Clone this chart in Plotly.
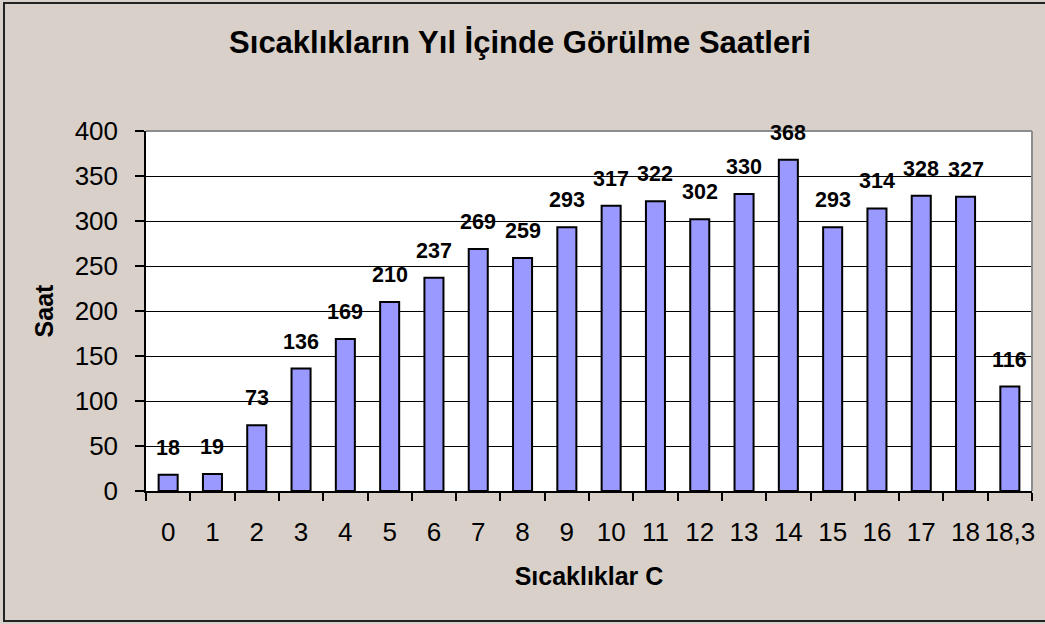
import plotly.graph_objects as go

categories = ["0", "1", "2", "3", "4", "5", "6", "7", "8", "9", "10", "11", "12",
              "13", "14", "15", "16", "17", "18", "18,3"]
hours = [18, 19, 73, 136, 169, 210, 237, 269, 259, 293, 317, 322, 302, 330, 368,
         293, 314, 328, 327, 116]
y_ticks = [0, 50, 100, 150, 200, 250, 300, 350, 400]

title_text = "Sıcaklıkların Yıl İçinde Görülme Saatleri"
x_title = "Sıcaklıklar C"
y_title = "Saat"

FONT = "Liberation Sans, Arial, sans-serif"
BG = "#D8D0C9"

W, H = 1045, 624
ML, MR, MT, MB = 146, 13, 131, 133
PW, PH = W - ML - MR, H - MT - MB

fig = go.Figure()
fig.add_trace(go.Bar(
    x=categories, y=hours,
    marker=dict(color="#9999FF", line=dict(color="#000000", width=2)),
    hoverinfo="x+y",
))

annotations = []
for c, v in zip(categories, hours):
    annotations.append(dict(
        x=c, y=v, xref="x", yref="y", text="<b>%d</b>" % v, showarrow=False,
        yanchor="bottom", xanchor="center", yshift=13,
        font=dict(family=FONT, size=21.5, color="#000000"),
    ))

def px_x(px):
    return (px - ML) / PW

def px_y(py):
    return (H - MB - py) / PH

shapes = [
    # outer chart frame
    dict(type="rect", xref="paper", yref="paper",
         x0=px_x(4), x1=px_x(1052), y0=px_y(621), y1=px_y(3),
         line=dict(color="#222222", width=2), fillcolor="rgba(0,0,0,0)", layer="below"),
    # plot area top and right borders (gray)
    dict(type="line", xref="paper", yref="paper", x0=0, x1=1, y0=1, y1=1,
         line=dict(color="#8C8C8C", width=2), layer="above"),
    dict(type="line", xref="paper", yref="paper", x0=1, x1=1, y0=0, y1=1,
         line=dict(color="#8C8C8C", width=2), layer="above"),
]

fig.update_layout(
    width=W, height=H,
    margin=dict(l=ML, r=MR, t=MT, b=MB, autoexpand=False),
    paper_bgcolor=BG, plot_bgcolor="#FFFFFF",
    showlegend=False,
    bargap=0.57,
    title=dict(text="<b>%s</b>" % title_text, x=(232 + 808) / 2 / W, xanchor="center",
               y=1 - 42 / H, yanchor="middle", yref="container",
               font=dict(family=FONT, size=31, color="#000000")),
    font=dict(family=FONT, color="#000000"),
    annotations=annotations,
    shapes=shapes,
)

fig.update_xaxes(
    type="category", categoryorder="array", categoryarray=categories,
    showline=True, linecolor="#000000", linewidth=1.5,
    ticks="outside", tickson="boundaries", ticklen=8, tickcolor="#000000", tickwidth=1.5,
    tickfont=dict(family=FONT, size=26, color="#000000"),
    tickangle=0,
    ticklabelstandoff=17,
    showgrid=False,
    title=dict(text="<b>%s</b>" % x_title, font=dict(family=FONT, size=25, color="#000000"),
               standoff=22),
)

fig.update_yaxes(
    range=[0, 400], tickvals=y_ticks, ticktext=[str(t) for t in y_ticks],
    showline=True, linecolor="#000000", linewidth=1.5,
    ticks="outside", ticklen=9, tickcolor="#000000", tickwidth=1.5,
    tickfont=dict(family=FONT, size=26, color="#000000"),
    ticklabelstandoff=12,
    showgrid=True, gridcolor="#000000", gridwidth=1,
    zeroline=False,
    title=dict(text="<b>%s</b>" % y_title, font=dict(family=FONT, size=25, color="#000000"),
               standoff=14),
)

fig.write_html(
    "out.html",
    config={"displayModeBar": False},
    post_script="document.body.style.margin='0';document.body.style.overflow='hidden';",
)
